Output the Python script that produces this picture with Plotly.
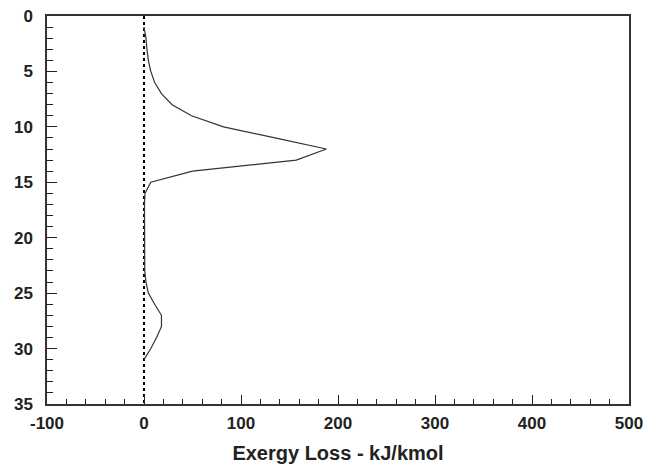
import plotly.graph_objects as go

stages = list(range(1, 32))
exergy_loss = [0, 2, 3, 4.5, 7, 11, 18, 29, 49, 82, 135, 188, 157, 50, 7, 1,
               0.5, 0.5, 0.5, 0.5, 0.5, 0.5, 0.8, 2, 4.5, 11, 18, 18, 13, 7, 0]
zero_line_x = [0, 0]
zero_line_y = [0, 35]

x_ticks = [-100, 0, 100, 200, 300, 400, 500]
x_tick_text = ["-100", "0", "100", "200", "300", "400", "500"]
y_ticks = [0, 5, 10, 15, 20, 25, 30, 35]

fig = go.Figure()
fig.add_trace(go.Scatter(x=zero_line_x, y=zero_line_y, mode="lines",
                         line=dict(color="black", width=2, dash="dot"),
                         showlegend=False, hoverinfo="skip"))
fig.add_trace(go.Scatter(x=exergy_loss, y=stages, mode="lines",
                         line=dict(color="#333333", width=1.2),
                         showlegend=False))

font_family = "Liberation Sans, Arial, sans-serif"
fig.update_layout(
    width=645, height=458,
    margin=dict(l=39, r=24, t=8, b=62),
    paper_bgcolor="white", plot_bgcolor="white",
    font=dict(family=font_family, color="#222222"),
    xaxis=dict(
        range=[-100, 500], tickvals=x_ticks, ticktext=x_tick_text,
        ticks="inside", ticklen=9, automargin=False,
        ticklabeloverflow="allow",
        tickwidth=1, tickcolor="#222", showgrid=False, zeroline=False,
        showline=True, linecolor="#333", linewidth=1.5, mirror=True,
        tickfont=dict(size=17, family=font_family, weight="bold"),
        ticklabelstandoff=3,
        minor=dict(dtick=20, ticks="inside", ticklen=5, tickcolor="#222", showgrid=False),
        title=dict(text="<b>Exergy Loss - kJ/kmol</b>", font=dict(size=20, family=font_family), standoff=14),
    ),
    yaxis=dict(
        range=[35, 0], tickvals=y_ticks, ticks="inside", ticklen=10,
        automargin=False, ticklabeloverflow="allow",
        tickwidth=1, tickcolor="#222", showgrid=False, zeroline=False,
        showline=True, linecolor="#333", linewidth=1.5, mirror=True,
        tickfont=dict(size=17, family=font_family, weight="bold"),
        ticklabelstandoff=9,
        minor=dict(dtick=1, ticks="inside", ticklen=6, tickcolor="#222", showgrid=False),
    ),
)

fig.write_html("out.html")
